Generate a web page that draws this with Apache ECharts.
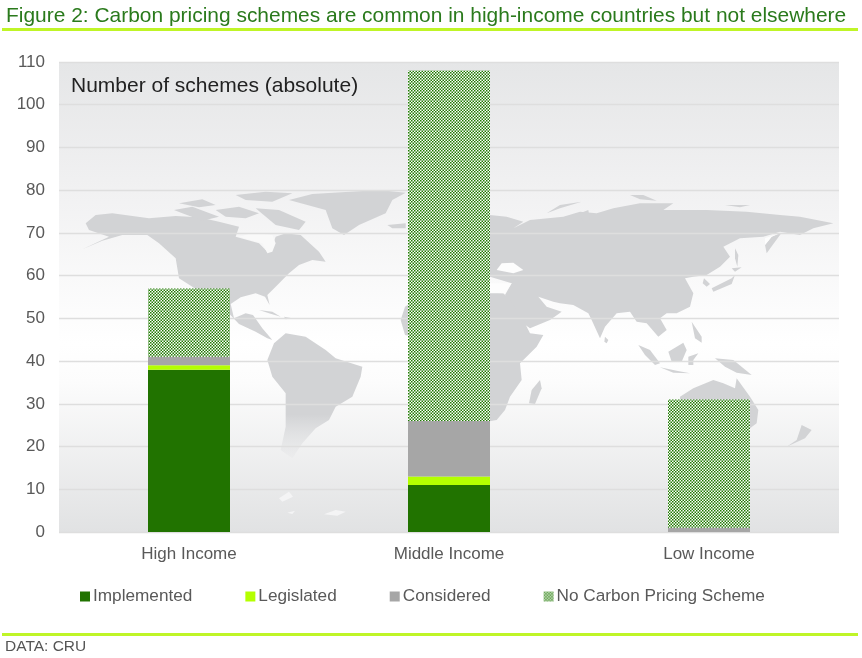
<!DOCTYPE html>
<html><head><meta charset="utf-8">
<style>html,body{margin:0;padding:0;background:#fff}#c{width:862px;height:658px}</style>
<script src="https://cdn.jsdelivr.net/npm/echarts@6/dist/echarts.min.js"></script>
</head><body><div id="c"></div>
<script>
const categories = ['High Income','Middle Income','Low Income'];
const implemented = [38,11,0];
const legislated = [1,2,0];
const considered = [2,13,1];
const noScheme = [16,82,30];
const titleText = 'Figure 2: Carbon pricing schemes are common in high-income countries but not elsewhere';
const subtitleText = 'Number of schemes (absolute)';
const sourceText = 'DATA: CRU';

// Decorative world map behind the plot (outlines)
const westLand = [
 [[80,130],[110,105],[160,100],[270,115],[350,108],[420,112],[480,125],[540,140],[530,170],[600,190],[625,215],[640,200],[650,170],[680,160],[725,165],[780,215],[800,245],[760,240],[720,255],[690,280],[650,320],[625,345],[632,375],[618,350],[590,340],[545,352],[515,372],[525,415],[560,400],[582,405],[610,445],[640,480],[625,475],[590,455],[540,432],[505,395],[400,320],[360,295],[350,235],[300,190],[265,165],[190,165],[130,182],[70,208],[150,170],[90,150]],
 [[690,60],[760,42],[960,30],[1040,38],[1000,60],[980,100],[900,135],[855,165],[820,145],[800,90]],
 [[345,90],[400,80],[440,95],[480,110],[430,122],[370,100]],
 [[360,70],[430,58],[470,75],[420,82]],
 [[470,90],[540,80],[600,100],[560,115],[500,110]],
 [[530,45],[620,35],[700,40],[640,65],[560,60]],
 [[590,85],[660,90],[740,125],[720,150],[650,135]],
 [[985,135],[1040,130],[1040,145],[1000,145]],
 [[600,390],[640,395],[665,410],[630,400]],
 [[675,410],[700,415],[680,418]]
];
const southAmerica = [[645,490],[680,460],[740,470],[800,510],[830,535],[910,560],[905,590],[880,650],[830,680],[810,720],[770,745],[730,790],[700,835],[665,810],[680,740],[680,640],[640,590],[625,540]];
const southIslands = [[[660,955],[690,935],[702,950],[670,965]],[[795,1003],[830,990],[860,995],[835,1007]],[[685,998],[708,992],[700,1002]]];
const westHoles = [[[540,170],[580,160],[640,165],[650,190],[640,215],[625,220],[610,190]]];
const eastLand = [
 [[-60,100],[30,105],[80,110],[130,125],[100,145],[150,120],[250,110],[300,95],[350,100],[400,85],[480,70],[580,70],[550,90],[680,90],[800,95],[900,105],[960,110],[1060,130],[1000,145],[960,165],[900,155],[850,170],[780,175],[730,200],[750,230],[720,260],[680,285],[640,290],[615,295],[640,340],[630,380],[590,400],[560,400],[540,415],[560,450],[535,470],[500,430],[470,425],[450,395],[410,400],[375,440],[360,475],[335,420],[325,400],[280,375],[240,370],[220,365],[175,350],[200,380],[245,395],[210,420],[150,445],[115,420],[75,345],[95,310],[30,290],[-60,290]],
 [[-180,350],[-100,325],[30,340],[70,340],[90,360],[130,420],[150,460],[190,465],[170,500],[120,550],[125,600],[90,650],[75,690],[50,720],[20,725],[-30,680],[-50,560],[-90,520],[-150,480],[-225,465],[-238,420],[-225,380]],
 [[180,600],[185,625],[165,672],[147,670],[155,630]],
 [[375,470],[385,480],[380,490],[373,485]],
 [[475,495],[510,510],[540,550],[525,555],[495,525]],
 [[540,562],[590,572],[630,580],[580,578]],
 [[565,515],[610,488],[620,510],[605,545],[575,545]],
 [[625,530],[655,520],[640,540],[640,555],[625,555]],
 [[635,425],[665,470],[665,488],[645,475],[640,450]],
 [[705,535],[760,540],[815,585],[770,578],[735,560]],
 [[600,650],[640,625],[700,600],[730,610],[765,625],[770,595],[810,650],[835,690],[830,730],[810,745],[650,760],[600,700]],
 [[672,295],[690,312],[680,320],[668,310]],
 [[695,325],[755,295],[765,285],[755,312],[700,335]],
 [[765,205],[775,225],[772,260],[765,235]],
 [[755,265],[785,262],[765,275]],
 [[200,100],[240,75],[305,65],[240,85]],
 [[300,100],[325,90],[330,125],[310,125]],
 [[450,45],[490,45],[530,62],[480,58]],
 [[735,75],[810,75],[780,82]],
 [[965,735],[995,750],[975,775],[920,800],[950,780]],
 [[855,195],[875,170],[905,158],[885,185],[860,220]]
];
const eastHoles = [
 [[50,270],[65,250],[100,248],[130,270],[100,280]],
 [[-60,305],[30,310],[95,310],[75,340],[30,338],[-30,325],[-60,335]],
 [[855,175],[900,158],[875,170],[855,195]]
];

const landColor = '#d2d3d5';
const holeColor = '#f9f9f9';
const poly = (pts, ox, oy, fill) => ({type:'polygon', x:ox, y:oy, scaleX:1/3, scaleY:1/3, z:1, silent:true, shape:{points:pts}, style:{fill}});
const fade = new echarts.graphic.LinearGradient(0,0,0,1,[{offset:0,color:landColor},{offset:0.65,color:landColor},{offset:1,color:'rgba(220,221,223,0.15)'}]);
const mapElements = [
 ...westLand.map(p=>poly(p,59,180,landColor)),
 ...westHoles.map(p=>poly(p,59,180,holeColor)),
 poly(southAmerica,59,180,fade),
 ...southIslands.map(p=>poly(p,59,180,'#f4f4f5')),
 ...eastLand.map(p=>poly(p,480,180,landColor)),
 ...eastHoles.map(p=>poly(p,480,180,'#fdfdfd'))
];

const pat = document.createElement('canvas');
pat.width = 3; pat.height = 3;
const g = pat.getContext('2d');
g.fillStyle='#ffffff'; g.fillRect(0,0,3,3);
g.fillStyle='#1f7a00'; g.fillRect(0,0,1.5,1.5); g.fillRect(1.5,1.5,1.5,1.5);

const chart = echarts.init(document.getElementById('c'),null,{renderer:'canvas'});
const font = 'Liberation Sans, Arial, sans-serif';
const bar = (name,data,color)=>({name,type:'bar',stack:'total',barWidth:82,data,z:3,itemStyle:{color}});
chart.setOption({
 animation:false,
 textStyle:{fontFamily:font},
 title:{text:titleText,left:1,top:1,textStyle:{fontFamily:font,fontSize:20.95,fontWeight:'normal',color:'#2a7a1c'}},
 legend:{left:75,top:583,itemGap:53,itemWidth:10,itemHeight:10,icon:'rect',itemStyle:{borderWidth:0},textStyle:{fontFamily:font,fontSize:17.2,color:'#595959',padding:[1,0,0,-2]},
   data:['Implemented','Legislated','Considered','No Carbon Pricing Scheme']},
 grid:{left:59,right:23,top:62,bottom:126,show:true,borderWidth:0,z:0,
   backgroundColor:new echarts.graphic.LinearGradient(0,0,0,1,[{offset:0,color:'#e5e6e7'},{offset:0.25,color:'#f0f0f1'},{offset:0.6,color:'#ffffff'},{offset:0.68,color:'#fcfcfc'},{offset:1,color:'#e1e2e3'}])},
 xAxis:{type:'category',data:categories,z:2,axisLine:{show:false},axisTick:{show:false},
   axisLabel:{fontSize:17,color:'#595959',margin:14,fontFamily:font}},
 yAxis:{type:'value',min:0,max:110,interval:10,z:2,axisLine:{show:false},axisTick:{show:false},
   axisLabel:{fontSize:17,color:'#595959',margin:14,fontFamily:font,padding:[3,0,0,0]},
   splitLine:{lineStyle:{color:'#dedede',width:1.3}}},
 series:[bar('Implemented',implemented,'#217300'),bar('Legislated',legislated,'#b4ff00'),bar('Considered',considered,'#a6a6a6'),
   bar('No Carbon Pricing Scheme',noScheme,{image:pat,repeat:'repeat'})],
 graphic:[
  ...mapElements,
  {type:'text',x:71,y:76,z:5,silent:true,style:{text:subtitleText,fontFamily:font,fontSize:21,fill:'#222222'}},
  {type:'rect',z:5,silent:true,shape:{x:2,y:28,width:856,height:3},style:{fill:'#bff527'}},
  {type:'rect',z:5,silent:true,shape:{x:2,y:633,width:856,height:3},style:{fill:'#bff527'}},
  {type:'text',x:5,y:639,z:5,silent:true,style:{text:sourceText,fontFamily:font,fontSize:15.5,fill:'#555555'}}
 ]
});
</script></body></html>
